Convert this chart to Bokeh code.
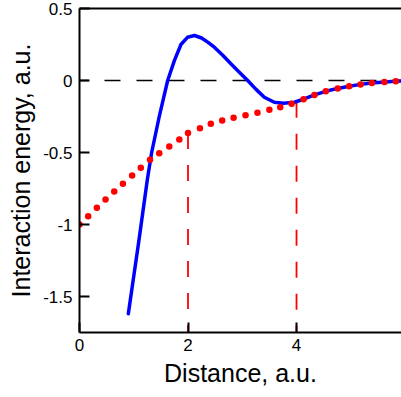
from bokeh.plotting import figure
from bokeh.models import Range1d, FixedTicker, LinearAxis, Span, Label
from bokeh.embed import file_html
from bokeh.resources import INLINE

# red dotted curve
red_x = [0.00, 0.16, 0.32, 0.48, 0.64, 0.80, 0.97, 1.13, 1.30, 1.47, 1.655, 1.84, 2.00,
         2.22, 2.42, 2.63, 2.84, 3.06, 3.28, 3.50, 3.70, 3.91, 4.13, 4.33, 4.54, 4.76,
         4.97, 5.18, 5.39, 5.62, 5.83]
red_y = [-1.00, -0.942, -0.884, -0.826, -0.771, -0.717, -0.660, -0.606, -0.551, -0.505,
         -0.458, -0.410, -0.365, -0.331, -0.301, -0.278, -0.259, -0.241, -0.224, -0.203,
         -0.185, -0.162, -0.13, -0.10, -0.075, -0.055, -0.04, -0.027, -0.017, -0.01, -0.005]

# blue solid curve
blue_x = [0.90, 1.09, 1.25, 1.33, 1.47, 1.625, 1.75, 1.87, 1.99, 2.12, 2.25, 2.37, 2.485,
          2.64, 2.79, 2.95, 3.10, 3.25, 3.406, 3.59, 3.76, 3.96, 4.13, 4.33, 4.54, 4.76,
          4.97, 5.18, 5.39, 5.62, 5.83, 6.0]
blue_y = [-1.62, -1.125, -0.69, -0.50, -0.25, 0.0, 0.14, 0.25, 0.30, 0.3125, 0.295, 0.265,
          0.231, 0.175, 0.116, 0.056, 0.0, -0.06, -0.116, -0.151, -0.158, -0.151, -0.13,
          -0.10, -0.075, -0.055, -0.04, -0.027, -0.017, -0.01, -0.005, -0.002]

# red dashed markers
mark_x = [2, 4]
mark_y = [-0.365, -0.148]

x_ticks = [0, 2, 4, 6]
y_ticks = [-1.5, -1, -0.5, 0, 0.5]
y_tick_labels = ["-1.5", "-1", "-0.5", "0", "0.5"]

Y_MIN, Y_MAX = -1.75, 0.5
X_MIN, X_MAX = 0, 5.935

FONT = "Liberation Sans"

p = figure(width=401, height=397, output_backend="svg", toolbar_location=None,
           x_range=Range1d(X_MIN, X_MAX), y_range=Range1d(Y_MIN, Y_MAX),
           min_border_left=79, min_border_right=0, min_border_top=8, min_border_bottom=65,
           x_axis_label="Distance, a.u.", y_axis_label="Interaction energy, a.u.")
p.grid.visible = False
p.outline_line_color = None
p.background_fill_color = "white"
p.border_fill_color = "white"

p.xaxis.ticker = FixedTicker(ticks=x_ticks)
p.yaxis.ticker = FixedTicker(ticks=y_ticks)
p.yaxis.major_label_overrides = {t: s for t, s in zip(y_ticks, y_tick_labels)}

for ax in (p.xaxis[0], p.yaxis[0]):
    ax.axis_line_width = 2
    ax.axis_line_color = "black"
    ax.major_tick_in = 10
    ax.major_tick_out = 0
    ax.major_tick_line_width = 2
    ax.major_tick_line_color = "black"
    ax.minor_tick_line_color = None
    ax.major_label_text_font = FONT
    ax.major_label_text_font_size = "17px"
    ax.major_label_text_color = "black"
    ax.axis_label_text_font = FONT
    ax.axis_label_text_font_size = "25px"
    ax.axis_label_text_font_style = "normal"
    ax.axis_label_text_color = "black"

p.xaxis.major_label_standoff = 6
p.xaxis.axis_label_standoff = 5
p.yaxis.major_label_standoff = 7
p.yaxis.axis_label_standoff = 5

top = LinearAxis(ticker=FixedTicker(ticks=[]), axis_line_width=2, axis_line_color="black",
                 major_tick_line_color=None, minor_tick_line_color=None,
                 major_label_text_font_size="0px")
p.add_layout(top, "above")

zero = Span(location=0, dimension="width", line_color="black", line_width=1.5,
            line_dash="16 16", line_dash_offset=7, level="underlay")
p.add_layout(zero)

p.segment(x0=mark_x, y0=mark_y, x1=mark_x, y1=[Y_MIN] * len(mark_x),
          line_color="#ff0000", line_width=1.8, line_dash="16 16")

p.line(blue_x, blue_y, line_color="#0000ff", line_width=3.5, line_join="round", line_cap="round")

p.scatter(red_x, red_y, size=6.5, fill_color="#ff0000", line_color=None)

six = Label(x=6, y=Y_MIN, x_units="data", y_units="data", text="6", text_align="center",
            text_baseline="top", y_offset=-8, text_font=FONT, text_font_size="17px",
            text_color="black")
p.add_layout(six)

open("out.html", "w").write(file_html(p, INLINE))
